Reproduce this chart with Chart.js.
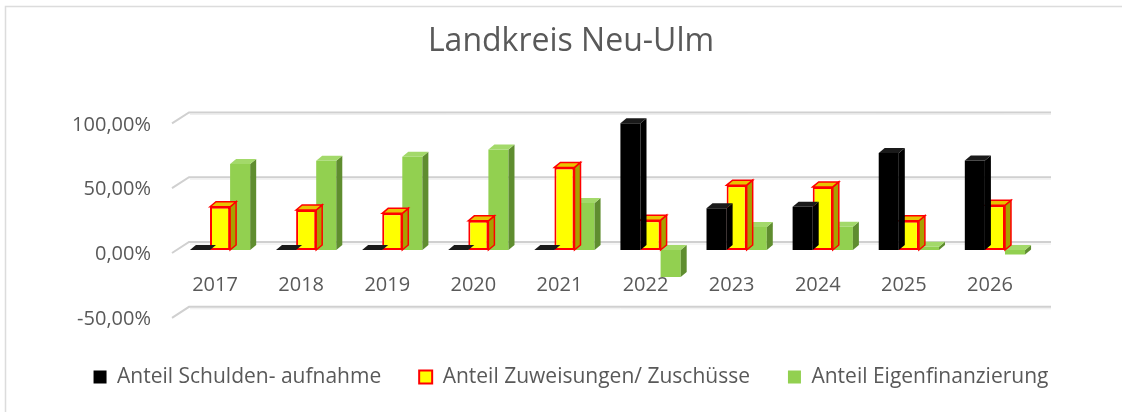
<!DOCTYPE html>
<html>
<head>
<meta charset="utf-8">
<script src="https://cdn.jsdelivr.net/npm/chart.js@4.4.1/dist/chart.umd.min.js"></script>
<style>
  html, body { margin: 0; padding: 0; background: #fff; }
  #wrap { width: 1122px; height: 412px; }
</style>
</head>
<body>
<div id="wrap"><canvas id="landkreis"></canvas></div>
<script>
  const years = ['2017', '2018', '2019', '2020', '2021', '2022', '2023', '2024', '2025', '2026'];
  const schulden = [0, 0, 0, 0, 0, 97.8, 32.2, 33.3, 74.8, 69];
  const zuweisungen = [33.4, 30.9, 28.3, 22.5, 63.7, 23, 50, 48.7, 22.6, 34.5];
  const eigen = [66.4, 68.9, 72, 77.5, 36.3, -20.8, 17.8, 18, 2.5, -3.5];
  const yTicks = [-50, 0, 50, 100];

  const grey = '#595959';
  const DX = 6, DY = 5;

  // gridlines drawn as the back wall of a 3d chart
  const wall = {
    id: 'wall',
    beforeDraw(chart) {
      const c = chart.ctx;
      c.save();
      c.strokeStyle = '#dcdcdc';
      c.lineWidth = 1.5;
      c.strokeRect(5.5, 6.5, 1300, 600);
      c.restore();
    },
    beforeDatasetsDraw(chart) {
      const c = chart.ctx, ys = chart.scales.y;
      const { left, right } = chart.chartArea;
      c.save();
      ys.ticks.forEach(t => {
        const py = ys.getPixelForValue(t.value);
        c.strokeStyle = '#d0d0d0';
        c.lineWidth = 2;
        c.beginPath();
        c.moveTo(left - 5, py + 3);
        c.lineTo(left + 12, py - 8);
        c.lineTo(right + 13, py - 8);
        c.stroke();
        c.strokeStyle = '#ececec';
        c.lineWidth = 1;
        c.beginPath();
        c.moveTo(left + 13, py - 6);
        c.lineTo(right + 13, py - 6);
        c.stroke();
      });
      c.restore();
    }
  };

  // side and top faces of the columns
  const bars3d = {
    id: 'bars3d',
    afterDatasetDraw(chart, args) {
      const ds = chart.data.datasets[args.index];
      const c = chart.ctx;
      c.save();
      args.meta.data.forEach(bar => {
        const { x, y, base, width } = bar.getProps(['x', 'y', 'base', 'width'], true);
        const l = x - width / 2, r = x + width / 2;
        const top = Math.min(y, base), bot = Math.max(y, base);
        c.beginPath();
        c.moveTo(r, top);
        c.lineTo(r + DX, top - DY);
        c.lineTo(r + DX, bot - DY);
        c.lineTo(r, bot);
        c.closePath();
        c.fillStyle = ds.sideColor;
        c.fill();
        if (ds.edge) { c.strokeStyle = ds.edge; c.lineWidth = 1.5; c.stroke(); }
        c.beginPath();
        c.moveTo(l, top);
        c.lineTo(l + DX, top - DY);
        c.lineTo(r + DX, top - DY);
        c.lineTo(r, top);
        c.closePath();
        c.fillStyle = ds.topColor;
        c.fill();
        if (ds.edge) { c.strokeStyle = ds.edge; c.lineWidth = 1.5; c.stroke(); }
      });
      c.restore();
    }
  };

  // keep the legend below the plot without growing the plot
  const legendFit = {
    id: 'legendFit',
    beforeLayout(chart) {
      const lg = chart.legend;
      if (lg && !lg.patched) {
        const fit = lg.fit;
        lg.fit = function () { fit.call(this); this.height = 97.2; };
        lg.patched = true;
      }
    }
  };

  Chart.defaults.font.family = '"Open Sans"';
  Chart.defaults.color = grey;

  new Chart(document.getElementById('landkreis'), {
    type: 'bar',
    data: {
      labels: years,
      datasets: [{
        label: 'Anteil Schulden- aufnahme',
        data: schulden,
        backgroundColor: '#000000',
        sideColor: '#000000',
        topColor: '#1a1a1a',
        borderWidth: 0
      }, {
        label: 'Anteil Zuweisungen/ Zuschüsse',
        data: zuweisungen,
        backgroundColor: '#ffff00',
        borderColor: '#ff0000',
        borderWidth: 2,
        borderSkipped: false,
        sideColor: '#a8a000',
        topColor: '#e8c400',
        edge: '#ff0000'
      }, {
        label: 'Anteil Eigenfinanzierung',
        data: eigen,
        backgroundColor: '#92d050',
        sideColor: '#5f8d2f',
        topColor: '#a3d96a',
        borderWidth: 0
      }]
    },
    options: {
      responsive: true,
      maintainAspectRatio: false,
      animation: false,
      layout: { padding: { left: 20, right: 0, top: 0, bottom: 0 } },
      datasets: { bar: { categoryPercentage: 0.7, barPercentage: 1.0 } },
      plugins: {
        title: {
          display: true,
          text: 'Landkreis Neu-Ulm',
          color: grey,
          font: { size: 32, weight: 'normal' },
          padding: { top: 23, bottom: 59 }
        },
        legend: {
          position: 'bottom',
          title: { display: true, text: '', font: { size: 11.5 }, padding: 0 },
          labels: {
            color: grey,
            font: { size: 21 },
            boxWidth: 13,
            boxHeight: 13,
            padding: 38
          }
        },
        tooltip: { enabled: false }
      },
      scales: {
        x: {
          position: { y: 0 },
          grid: { display: false },
          border: { display: false },
          ticks: { font: { size: 20 }, color: grey, padding: 15, labelOffset: -5, maxRotation: 0 }
        },
        y: {
          min: -50,
          max: 100,
          afterBuildTicks: s => { s.ticks = yTicks.map(v => ({ value: v })); },
          afterFit: s => { s.width = 157; },
          grid: { display: false },
          border: { display: false },
          ticks: {
            font: { size: 20 },
            color: grey,
            padding: 18,
            labelOffset: 4.5,
            callback: v => v.toFixed(2).replace('.', ',') + '%'
          }
        },
        yR: {
          position: 'right',
          display: true,
          grid: { display: false },
          border: { display: false },
          ticks: { display: false },
          afterFit: s => { s.width = 84; }
        }
      }
    },
    plugins: [wall, bars3d, legendFit]
  });
</script>
</body>
</html>
